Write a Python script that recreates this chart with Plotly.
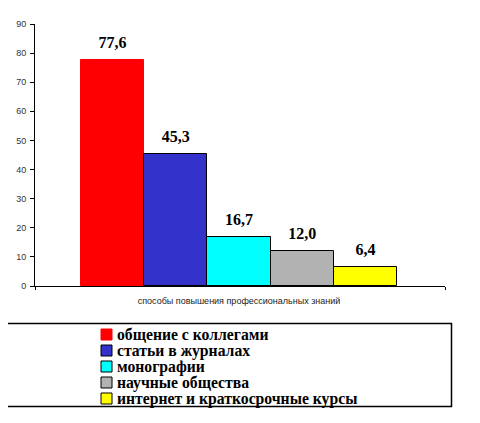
import plotly.graph_objects as go

category = "способы повышения профессиональных знаний"
series_names = ["общение с коллегами", "статьи в журналах", "монографии",
                "научные общества", "интернет и краткосрочные курсы"]
values = [77.6, 45.3, 16.7, 12.0, 6.4]
colors = ["#FF0000", "#3333CC", "#00FFFF", "#B2B2B2", "#FFFF00"]
outline = ["#FF0000", "#000000", "#000000", "#000000", "#000000"]
y_ticks = [0, 10, 20, 30, 40, 50, 60, 70, 80, 90]
labels = [f"{v:.1f}".replace(".", ",") for v in values]
positions = list(range(len(values)))

W, H = 480, 423
OFF = 8  # page body margin
L, R, T, B = 27, 43, 16, 145
PW, PH = W - L - R, H - T - B
X_RANGE = [-1.228, 5.26]


def px_x(sx):
    return (sx - OFF - L) / PW


def px_y(sy):
    return (H - B - (sy - OFF)) / PH


fig = go.Figure()
for xi, name, v, c, oc in zip(positions, series_names, values, colors, outline):
    fig.add_trace(go.Bar(
        x=[xi], y=[v], name=name, width=1,
        marker=dict(color=c, line=dict(color=oc, width=1)),
        hoverinfo="skip",
    ))
fig.add_trace(go.Scatter(
    x=positions, y=values, mode="markers+text", text=labels,
    textposition="top center",
    marker=dict(size=12, opacity=0),
    textfont=dict(family="Liberation Serif", size=16, color="black", weight="bold"),
    cliponaxis=False, hoverinfo="skip",
))

fig.update_layout(
    width=W, height=H,
    margin=dict(l=L, r=R, t=T, b=B, autoexpand=False),
    paper_bgcolor="white", plot_bgcolor="white",
    bargap=0,
    font=dict(family="Liberation Sans", size=9, color="black"),
    showlegend=False,
)
fig.update_yaxes(range=[0, 90], tickvals=y_ticks, showline=True, linecolor="black",
                 linewidth=1, ticks="outside", ticklen=4, tickcolor="black",
                 showgrid=False, zeroline=False, automargin=False,
                 ticklabelstandoff=2, tickfont=dict(size=9, color="#333"))
fig.update_xaxes(range=X_RANGE, showline=True, linecolor="black", linewidth=1,
                 tickvals=[2], ticktext=[category], ticks="",
                 minor=dict(tickvals=X_RANGE, ticks="outside", ticklen=3,
                            tickcolor="black", showgrid=False),
                 showgrid=False, zeroline=False, tickangle=0, automargin=False,
                 ticklabelstandoff=6, tickfont=dict(size=9, color="#222"))

# legend frame
fig.add_shape(type="rect", xref="paper", yref="paper",
              x0=px_x(5.5), x1=px_x(451.5), y0=px_y(406.5), y1=px_y(323.5),
              line=dict(color="black", width=1.5), fillcolor="rgba(0,0,0,0)")
# legend rows
for i, (name, c, oc) in enumerate(zip(series_names, colors, outline)):
    cy = 334.5 + i * 16
    fig.add_shape(type="rect", xref="paper", yref="paper",
                  x0=px_x(101), x1=px_x(112), y0=px_y(cy + 5.5), y1=px_y(cy - 5.5),
                  line=dict(color=oc, width=1), fillcolor=c)
    fig.add_annotation(xref="paper", yref="paper", x=px_x(115), y=px_y(cy),
                       xanchor="left", yanchor="middle", showarrow=False, text=name,
                       font=dict(family="Liberation Serif", size=15.7, color="black",
                                 weight="bold"))

fig.write_html("out.html")
